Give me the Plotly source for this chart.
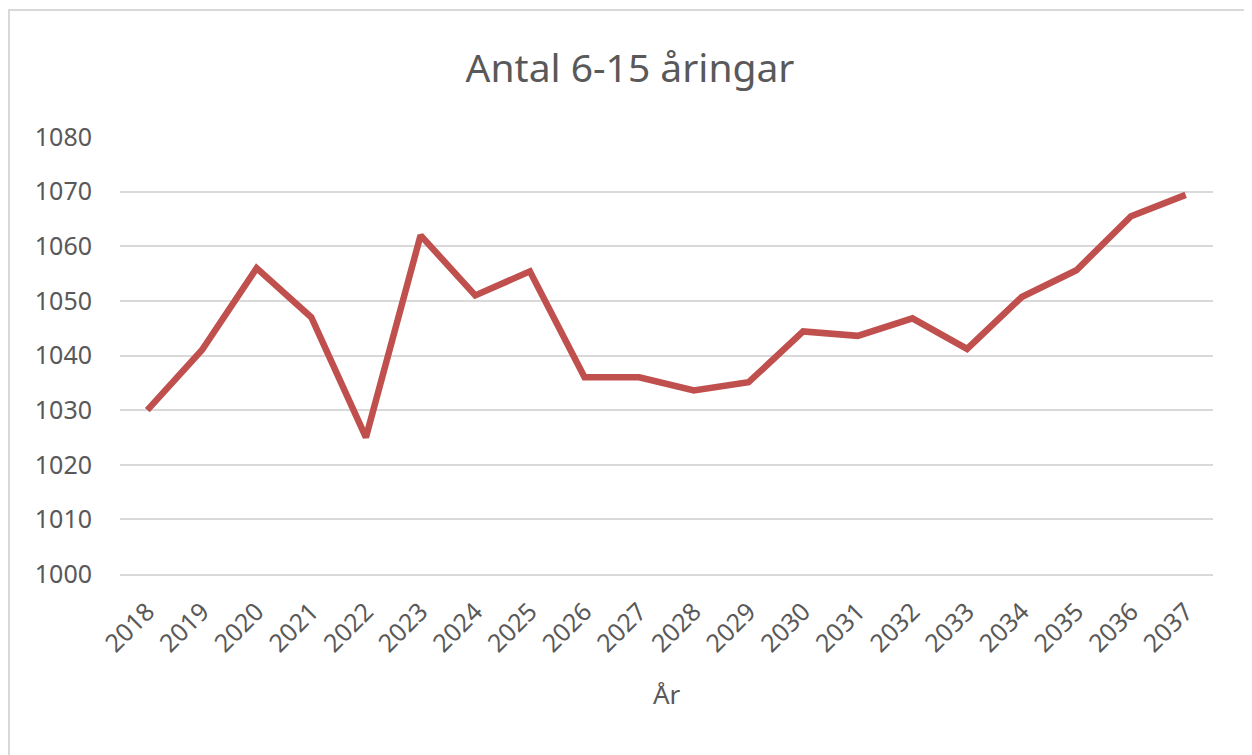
import plotly.graph_objects as go

years = [str(y) for y in range(2018, 2038)]
antal = [1030, 1041, 1056, 1047, 1025, 1062, 1051, 1055.4, 1036, 1036,
         1033.6, 1035.1, 1044.4, 1043.6, 1046.8, 1041.2, 1050.7, 1055.6, 1065.5, 1069.4]
y_ticks = list(range(1000, 1081, 10))

# figure sits inside the page's 8px body margin
W, H = 1244, 747
L, R, T, B = 112, 1205, 129, 566
PW, PH = R - L, B - T

fig = go.Figure()
fig.add_trace(go.Scatter(x=years, y=antal, mode="lines",
                         line=dict(color="#C0504D", width=6.5),
                         hoverinfo="x+y", showlegend=False))

font_family = "Noto Sans, Open Sans, sans-serif"
grey = "#595959"
fig.update_layout(
    width=W, height=H,
    margin=dict(l=L, r=W - R, t=T, b=H - B),
    paper_bgcolor="white", plot_bgcolor="white",
    title=dict(text="Antal 6-15 åringar", xref="container", x=0.5, xanchor="center",
               yref="container", y=1 - 60 / H, yanchor="middle",
               font=dict(family=font_family, size=39, color=grey)),
    xaxis=dict(type="category", range=[-0.5, len(years) - 0.5],
               tickangle=-45, showgrid=False, ticks="",
               showline=True, linecolor="#D9D9D9", linewidth=2,
               ticklabelstandoff=11,
               tickfont=dict(family=font_family, size=25, color=grey)),
    yaxis=dict(range=[1000, 1080], tickvals=y_ticks, showgrid=True,
               gridcolor="#D9D9D9", gridwidth=2, zeroline=False, showline=False,
               ticks="", ticklabelstandoff=27,
               tickfont=dict(family=font_family, size=25, color=grey)),
    annotations=[dict(text="År", xref="paper", yref="paper",
                      x=0.5, y=(B - 686) / PH, xanchor="center", yanchor="middle",
                      showarrow=False,
                      font=dict(family=font_family, size=26, color=grey))],
    shapes=[dict(type="rect", xref="paper", yref="paper",
                 x0=(1 - L) / PW, x1=(1237 - L) / PW,
                 y0=(B - 770) / PH, y1=(B - 2) / PH,
                 line=dict(color="#D9D9D9", width=2), layer="below")],
)

fig.write_html("out.html")
